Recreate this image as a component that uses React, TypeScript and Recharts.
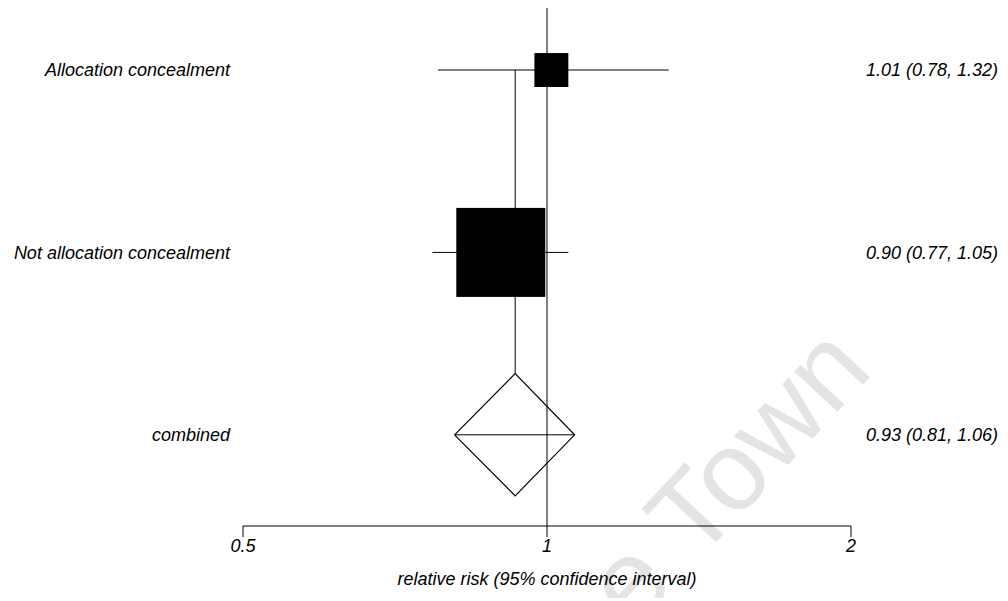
import React from "react";
import {
  ComposedChart,
  ReferenceLine,
  Scatter,
  XAxis,
  YAxis,
} from "recharts";

const studyLabels = ["Allocation concealment", "Not allocation concealment"];
const studyEstimates = [1.01, 0.9];
const studyLower = [0.78, 0.77];
const studyUpper = [1.32, 1.05];
const studyWeights = [12.7, 87.3];

const pooledLabel = "combined";
const pooledEstimate = 0.93;
const pooledLower = 0.81;
const pooledUpper = 1.065;

const xTicks = [0.5, 1, 2];

const FONT = "'Liberation Sans', Arial, sans-serif";
const MAX_SIDE = 89;
const DIAMOND_HALF = 0.335;

// rows from the top: studies first, combined last
const rowCount = studyLabels.length + 1;
const rowOf = (i: number) => rowCount - i;
const pooledRow = 1;

const fmt = (v: number) => (Math.floor(v * 100 + 1e-9) / 100).toFixed(2);
const ciText = (e: number, lo: number, hi: number) =>
  `${fmt(e)} (${fmt(lo)}, ${fmt(hi)})`;

const squares = studyEstimates.map((e, i) => ({
  x: e,
  y: rowOf(i),
  w: studyWeights[i],
}));

const diamond = [
  { x: pooledLower, y: pooledRow },
  { x: pooledEstimate, y: pooledRow + DIAMOND_HALF },
  { x: pooledUpper, y: pooledRow },
  { x: pooledEstimate, y: pooledRow - DIAMOND_HALF },
  { x: pooledLower, y: pooledRow },
];

const leftNames: Record<number, string> = { [pooledRow]: pooledLabel };
const rightNames: Record<number, string> = {
  [pooledRow]: ciText(pooledEstimate, pooledLower, pooledUpper),
};
studyLabels.forEach((s, i) => {
  leftNames[rowOf(i)] = s;
  rightNames[rowOf(i)] = ciText(studyEstimates[i], studyLower[i], studyUpper[i]);
});

const yDomain: [number, number] = [0.5, 3.34];
const yTicks = Object.keys(leftNames).map(Number);
const maxW = Math.max(...studyWeights);

const textStyle = {
  fontFamily: FONT,
  fontStyle: "italic" as const,
  fontSize: 18,
  fill: "#000",
};

function SquareShape(props: any) {
  const { cx, cy, payload } = props;
  const s = MAX_SIDE * Math.sqrt(payload.w / maxW);
  return <rect x={cx - s / 2} y={cy - s / 2} width={s} height={s} fill="#000" />;
}

function RightTick(props: any) {
  const { x, y, payload } = props;
  return (
    <text x={x} y={y} dy="0.355em" textAnchor="end" {...textStyle}>
      {rightNames[payload.value]}
    </text>
  );
}

export default function App() {
  return (
    <div style={{ position: "relative", width: 1000, height: 590 }}>
      <svg
        width={1000}
        height={593}
        style={{ position: "absolute", left: 0, top: 0 }}
      >
        <text
          x={626}
          y={622}
          transform="rotate(-47 626 622)"
          fontFamily={FONT}
          fontSize={112}
          fill="#e4e4e4"
        >
          e Town
        </text>
      </svg>
      <ComposedChart
        width={1000}
        height={590}
        margin={{ top: 0, right: 0, bottom: 0, left: 0 }}
        style={{ position: "absolute", left: 0, top: 0 }}
      >
        <XAxis
          type="number"
          dataKey="x"
          scale="log"
          domain={[0.5, 2]}
          allowDataOverflow
          ticks={xTicks}
          tickFormatter={(v) => String(v)}
          height={72}
          tickSize={11}
          tickMargin={2}
          axisLine={{ stroke: "#000" }}
          tickLine={{ stroke: "#000" }}
          tick={textStyle}
          label={{
            value: "relative risk (95% confidence interval)",
            position: "insideBottom",
            offset: 13,
            style: textStyle,
          }}
        />
        <YAxis
          yAxisId="left"
          type="number"
          dataKey="y"
          domain={yDomain}
          allowDataOverflow
          ticks={yTicks}
          width={235}
          axisLine={false}
          tickLine={false}
          tickSize={0}
          tickMargin={13}
          tick={textStyle}
          tickFormatter={(v) => leftNames[v] ?? ""}
        />
        <YAxis
          yAxisId="right"
          orientation="right"
          type="number"
          dataKey="y"
          domain={yDomain}
          allowDataOverflow
          ticks={yTicks}
          width={157}
          axisLine={false}
          tickLine={false}
          tickSize={0}
          tickMargin={147}
          tick={<RightTick />}
        />
        <ReferenceLine yAxisId="left" x={1} stroke="#000" strokeWidth={1} />
        {studyEstimates.map((_, i) => (
          <ReferenceLine
            key={`ci-${i}`}
            yAxisId="left"
            stroke="#000"
            strokeWidth={1}
            ifOverflow="visible"
            segment={[
              { x: studyLower[i], y: rowOf(i) },
              { x: studyUpper[i], y: rowOf(i) },
            ]}
          />
        ))}
        <ReferenceLine
          yAxisId="left"
          stroke="#000"
          strokeWidth={1}
          segment={[
            { x: pooledEstimate, y: rowOf(0) },
            { x: pooledEstimate, y: pooledRow + DIAMOND_HALF },
          ]}
        />
        <ReferenceLine
          yAxisId="left"
          stroke="#000"
          strokeWidth={1}
          segment={[
            { x: pooledLower, y: pooledRow },
            { x: pooledUpper, y: pooledRow },
          ]}
        />
        <Scatter
          yAxisId="left"
          data={diamond}
          line={{ stroke: "#000", strokeWidth: 1.2 }}
          lineType="joint"
          shape={() => <g />}
          isAnimationActive={false}
        />
        <Scatter
          yAxisId="left"
          data={squares}
          shape={<SquareShape />}
          isAnimationActive={false}
        />
      </ComposedChart>
    </div>
  );
}
